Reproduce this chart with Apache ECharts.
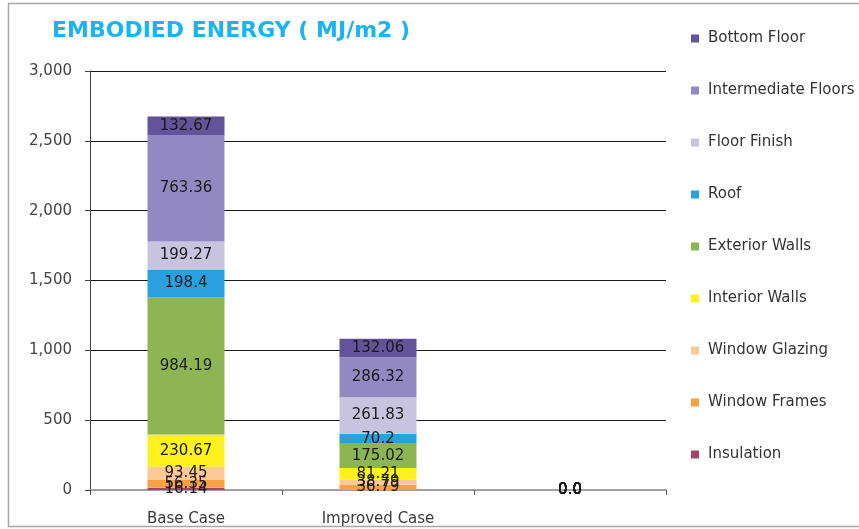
<!DOCTYPE html>
<html>
<head>
<meta charset="utf-8">
<script src="https://cdn.jsdelivr.net/npm/echarts@6/dist/echarts.min.js"></script>
<style>
  html, body { margin: 0; padding: 0; background: #ffffff; }
  #chart { width: 859px; height: 529px; }
</style>
</head>
<body>
<div id="chart"></div>
<script>
// Embodied energy by building component, MJ/m2
const categories = ['Base Case', 'Improved Case', ''];

const insulation         = [16.14, null, 0];
const windowFrames       = [56.35, 36.79, 0];
const windowGlazing      = [93.45, 38.79, 0];
const interiorWalls      = [230.67, 81.21, 0];
const exteriorWalls      = [984.19, 175.02, 0];
const roof               = [198.4, 70.2, 0];
const floorFinish        = [199.27, 261.83, 0];
const intermediateFloors = [763.36, 286.32, 0];
const bottomFloor        = [132.67, 132.06, 0];

const yTicks = [0, 500, 1000, 1500, 2000, 2500, 3000];

// stacked bottom-to-top
const seriesDefs = [
  { name: 'Insulation',          data: insulation,         color: '#a2446c' },
  { name: 'Window Frames',       data: windowFrames,       color: '#f8a044' },
  { name: 'Window Glazing',      data: windowGlazing,      color: '#fdc994' },
  { name: 'Interior Walls',      data: interiorWalls,      color: '#fff21c' },
  { name: 'Exterior Walls',      data: exteriorWalls,      color: '#8db554' },
  { name: 'Roof',                data: roof,               color: '#2ba0e0' },
  { name: 'Floor Finish',        data: floorFinish,        color: '#c8c3df' },
  { name: 'Intermediate Floors', data: intermediateFloors, color: '#9389c2' },
  { name: 'Bottom Floor',        data: bottomFloor,        color: '#62539a' }
];

const legendOrder = seriesDefs.map(s => s.name).slice().reverse();

const FONT = 'DejaVu Sans, Verdana, sans-serif';

function fmt(v) {
  if (v === 0) return '0.0';
  return String(v);
}

const chart = echarts.init(document.getElementById('chart'), null, { renderer: 'canvas' });

chart.setOption({
  animation: false,
  backgroundColor: '#ffffff',
  textStyle: { fontFamily: FONT },
  graphic: [
    {
      type: 'rect',
      shape: { x: 8.5, y: 3.5, width: 900, height: 523 },
      style: { fill: 'none', stroke: '#a6a6a6', lineWidth: 1.5 },
      silent: true
    }
  ],
  title: {
    text: 'EMBODIED ENERGY ( MJ/m2 )',
    left: 47,
    top: 15,
    textStyle: {
      color: '#1cb3ee',
      fontSize: 22,
      fontWeight: 'bold',
      fontFamily: FONT
    }
  },
  legend: {
    orient: 'vertical',
    left: 686,
    top: 26,
    itemWidth: 8,
    itemHeight: 8,
    itemGap: 37,
    icon: 'rect',
    data: legendOrder,
    textStyle: { color: '#333333', fontSize: 15, fontFamily: FONT, padding: [0, 0, 0, 4] }
  },
  grid: {
    left: 90,
    right: 193,
    top: 71,
    bottom: 39,
    containLabel: false
  },
  xAxis: {
    type: 'category',
    data: categories,
    axisLine: { show: true, lineStyle: { color: '#a0a0a0', width: 2 } },
    axisTick: { show: true, alignWithLabel: false, length: 5, lineStyle: { color: '#555555' } },
    axisLabel: { color: '#3a3a3a', fontSize: 15, fontFamily: FONT, margin: 22 }
  },
  yAxis: {
    type: 'value',
    min: yTicks[0],
    max: yTicks[yTicks.length - 1],
    interval: yTicks[1] - yTicks[0],
    axisLine: { show: true, lineStyle: { color: '#444444', width: 1 } },
    axisTick: { show: true, inside: false, length: 5, lineStyle: { color: '#444444' } },
    axisLabel: {
      color: '#444444',
      fontSize: 15,
      fontFamily: FONT,
      margin: 18,
      formatter: v => v.toLocaleString('en-US')
    },
    splitLine: { show: true, lineStyle: { color: '#1a1a1a', width: 1 } }
  },
  series: seriesDefs.map(s => ({
    name: s.name,
    type: 'bar',
    stack: 'total',
    barWidth: 77,
    data: s.data,
    itemStyle: { color: s.color },
    label: {
      show: true,
      position: 'inside',
      color: '#1a1a1a',
      fontSize: 15,
      fontFamily: FONT,
      formatter: p => (p.value === null || p.value === undefined) ? '' : fmt(p.value)
    }
  }))
});
</script>
</body>
</html>
